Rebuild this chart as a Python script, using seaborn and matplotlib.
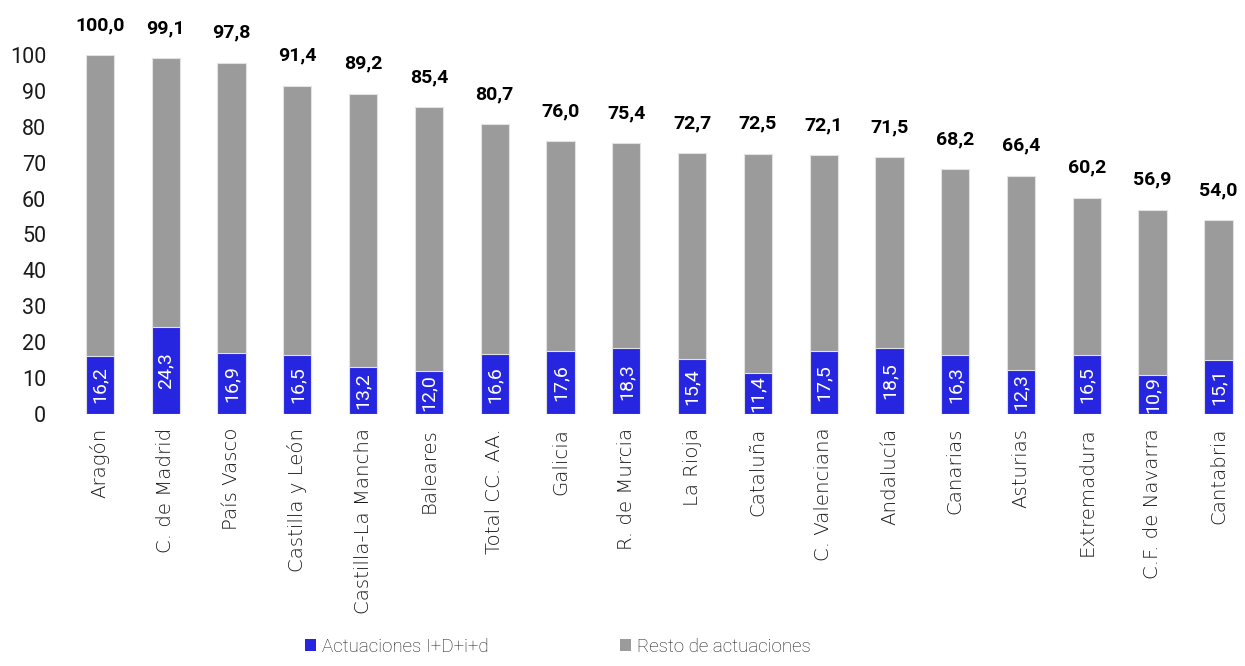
import matplotlib
matplotlib.use("Agg")
import matplotlib.pyplot as plt
import seaborn as sns
import pandas as pd
from matplotlib.patches import Patch

# ------------------------- data ------------------------- #
regions = ["Aragón", "C. de Madrid", "País Vasco", "Castilla y León",
           "Castilla-La Mancha", "Baleares", "Total CC. AA.", "Galicia",
           "R. de Murcia", "La Rioja", "Cataluña", "C. Valenciana",
           "Andalucía", "Canarias", "Asturias", "Extremadura",
           "C.F. de Navarra", "Cantabria"]
totals = [100.0, 99.1, 97.8, 91.4, 89.2, 85.4, 80.7, 76.0, 75.4,
          72.7, 72.5, 72.1, 71.5, 68.2, 66.4, 60.2, 56.9, 54.0]
idi = [16.2, 24.3, 16.9, 16.5, 13.2, 12.0, 16.6, 17.6, 18.3,
       15.4, 11.4, 17.5, 18.5, 16.3, 12.3, 16.5, 10.9, 15.1]
y_ticks = [0, 10, 20, 30, 40, 50, 60, 70, 80, 90, 100]

BLUE = "#2626E0"
GREY = "#9B9B9B"

df = pd.DataFrame({"region": regions, "total": totals, "idi": idi})

# ------------------------- style ------------------------- #
sns.set_theme(style="white")
plt.rcParams["font.family"] = ["Roboto", "DejaVu Sans"]
plt.rcParams["font.weight"] = "light"

fig = plt.figure(figsize=(12.45, 6.66), dpi=100)
ax = fig.add_axes([0.0538, 0.3784, 0.946, 0.539])

# grey = full height, blue drawn on top from 0
sns.barplot(data=df, x="region", y="total", color=GREY, saturation=1,
            width=0.43, edgecolor="#e2e2e2", linewidth=0.8, ax=ax)
sns.barplot(data=df, x="region", y="idi", color=BLUE, saturation=1,
            width=0.43, edgecolor="#e2e2e2", linewidth=0.8, ax=ax)

ax.set_xlim(-0.5, 17.4)
ax.set_ylim(0, 100)
ax.set_yticks(y_ticks)
ax.set_yticklabels([str(t) for t in y_ticks], fontsize=15.5, color="#1a1a1a",
                   fontweight="normal")
ax.set_xticks(range(len(regions)))
ax.set_xticklabels(regions, rotation=90, fontsize=14.2, color="#1a1a1a",
                   family=["DejaVu Sans"], fontweight="light")
ax.tick_params(axis="y", length=0, pad=15)
ax.tick_params(axis="x", length=0, pad=10)
ax.set_xlabel("")
ax.set_ylabel("")
sns.despine(ax=ax, left=True, bottom=True)

# labels
for i, (t, b) in enumerate(zip(totals, idi)):
    ax.annotate(f"{t:.1f}".replace(".", ","), xy=(i, t), xytext=(0, 18),
                textcoords="offset points", ha="center", va="baseline",
                fontsize=14, fontweight="bold", color="black",
                annotation_clip=False)
    ax.text(i, b / 2, f"{b:.1f}".replace(".", ","), rotation=90,
            ha="center", va="center", fontsize=14, color="white",
            fontweight="normal")

handles = [Patch(facecolor=BLUE, edgecolor="none", label="Actuaciones I+D+i+d"),
           Patch(facecolor=GREY, edgecolor="none", label="Resto de actuaciones")]
fig.legend(handles=handles, loc="lower center", bbox_to_anchor=(0.448, -0.01),
           ncol=2, frameon=False, fontsize=13.5, handlelength=0.6,
           handleheight=0.6, handletextpad=0.3, columnspacing=7.0,
           labelcolor="#1a1a1a")

fig.savefig("out.png", dpi=100)
